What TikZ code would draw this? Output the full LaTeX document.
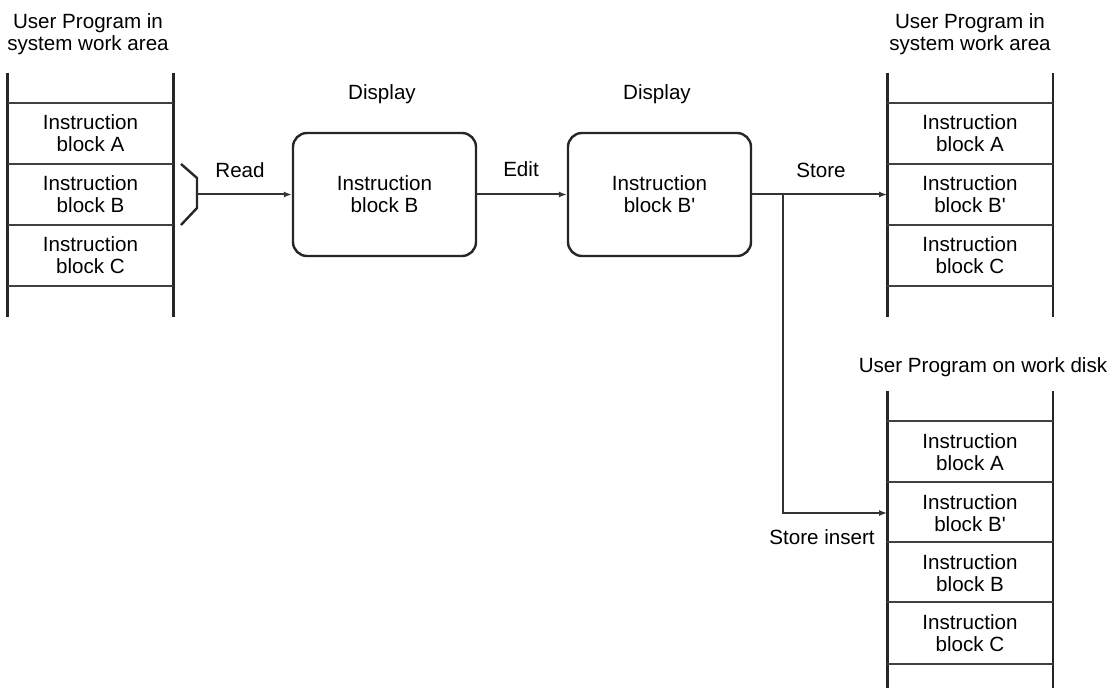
\documentclass[tikz,border=0pt]{standalone}
\usepackage{fontspec}
\setmainfont{Liberation Sans}
\usetikzlibrary{arrows.meta}
\tikzset{
  cell/.style={minimum width=82.5pt, minimum height=30.5pt, inner sep=0pt, align=center},
  rail/.style={line width=1.4pt, black!85},
  sep/.style={line width=1pt, black!75},
  flow/.style={line width=1pt, black!80, -{Latex[length=4pt,width=3pt]}},
  block/.style={draw, line width=1.2pt, black!85, text=black, rounded corners=7pt, minimum width=91.5pt, minimum height=61.5pt, align=center},
  title/.style={align=center}
}
\newcommand{\pr}{\textquotesingle}

\begin{document}
\begin{tikzpicture}[x=0.5pt,y=-0.5pt,font=\fontsize{10.3}{11}\selectfont]
\useasboundingbox (0,0) rectangle (1120,689);

% titles
\node[title] (ltitle) at (88,34) {User Program in\\system work area};
\node[title] (rtitle) at (970,34) {User Program in\\system work area};
\node[title] (dtitle) at (983,367) {User Program on work disk};

% left stack
\node[cell] (la) at (90.5,133.5) {Instruction\\block A};
\node[cell] (lb) at (90.5,194.5) {Instruction\\block B};
\node[cell] (lc) at (90.5,255.5) {Instruction\\block C};
\draw[rail] ([yshift=15pt]la.north west) -- ([yshift=-15.5pt]lc.south west);
\draw[rail] ([yshift=15pt]la.north east) -- ([yshift=-15.5pt]lc.south east);
\foreach \c in {la,lb,lc}
  \draw[sep] (\c.north west) -- (\c.north east);
\draw[sep] (lc.south west) -- (lc.south east);

% right stack
\node[cell] (ra) at (970,133.5) {Instruction\\block A};
\node[cell] (rb) at (970,194.5) {Instruction\\block B\pr};
\node[cell] (rc) at (970,255.5) {Instruction\\block C};
\draw[rail] ([yshift=15pt]ra.north west) -- ([yshift=-15.5pt]rc.south west);
\draw[rail] ([yshift=15pt]ra.north east) -- ([yshift=-15.5pt]rc.south east);
\foreach \c in {ra,rb,rc}
  \draw[sep] (\c.north west) -- (\c.north east);
\draw[sep] (rc.south west) -- (rc.south east);

% disk stack
\node[cell] (da) at (970,452) {Instruction\\block A};
\node[cell] (db) at (970,513) {Instruction\\block B\pr};
\node[cell] (dc) at (970,573) {Instruction\\block B};
\node[cell] (dd) at (970,633) {Instruction\\block C};
\draw[rail] ([yshift=15pt]da.north west) -- ([yshift=-12pt]dd.south west);
\draw[rail] ([yshift=15pt]da.north east) -- ([yshift=-12pt]dd.south east);
\foreach \c in {da,db,dc,dd}
  \draw[sep] (\c.north west) -- (\c.north east);
\draw[sep] (dd.south west) -- (dd.south east);

% display boxes
\node[block] (disp1) at (384.5,194.5) {Instruction\\block B};
\node[block] (disp2) at (659.5,194.5) {Instruction\\block B\pr};
\node (dlab1) at (382,94) {Display};
\node (dlab2) at (657,94) {Display};

% bracket and connectors
\draw[rail, line width=1.2pt] (181,164) -- (197,178) -- (197,208) -- (181,225);
\coordinate (rd) at (197,194.5);
\coordinate (br) at (783,194.5);
\draw[flow] (rd) -- (disp1.west);
\draw[flow] (disp1.east) -- (disp2.west);
\draw[flow] (disp2.east) -- (rb.west);
\draw[flow] (br) |- (db.west);

\node (read) at (240,170) {Read};
\node (edit) at (521,169) {Edit};
\node (store) at (821,170) {Store};
\node (storein) at (822,537) {Store insert};
\end{tikzpicture}
\end{document}
